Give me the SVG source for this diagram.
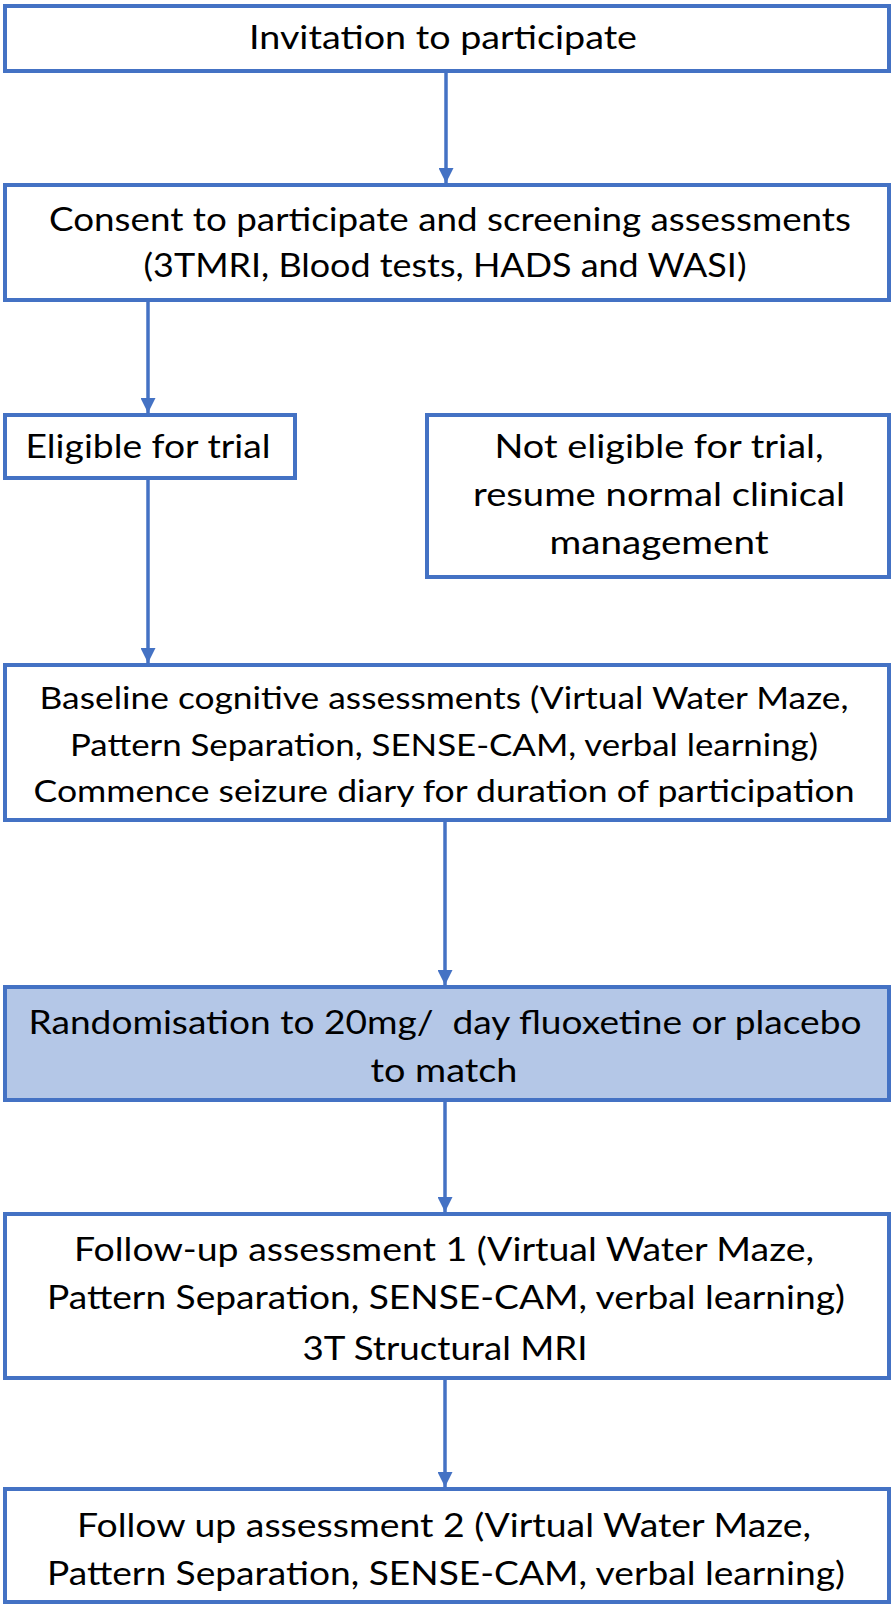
<svg xmlns="http://www.w3.org/2000/svg" width="894" height="1610" viewBox="0 0 894 1610">
<style>
.box{fill:#ffffff;stroke:#4472C4;stroke-width:4}
.hl{fill:#B4C7E7}
.conn{stroke:#4472C4;stroke-width:3.5;fill:none}
text{font-family:Lato,"Liberation Sans",sans-serif;font-size:32px;fill:#000000;text-anchor:middle}
.s{font-size:31px}
.l{font-size:33px}
</style>
<defs>
<marker id="ah" markerUnits="userSpaceOnUse" markerWidth="15" markerHeight="15" refX="15" refY="7.5" orient="auto">
<path d="M0,0 L15,7.5 L0,15 z" fill="#4472C4"/>
</marker>
</defs>
<rect width="894" height="1610" fill="#ffffff"/>
<g id="connectors">
<line class="conn" x1="446" y1="71" x2="446" y2="183" marker-end="url(#ah)"/>
<line class="conn" x1="148" y1="300" x2="148" y2="413" marker-end="url(#ah)"/>
<line class="conn" x1="148" y1="478" x2="148" y2="663" marker-end="url(#ah)"/>
<line class="conn" x1="445" y1="820" x2="445" y2="985" marker-end="url(#ah)"/>
<line class="conn" x1="445" y1="1100" x2="445" y2="1212" marker-end="url(#ah)"/>
<line class="conn" x1="445" y1="1378" x2="445" y2="1487" marker-end="url(#ah)"/>
</g>
<g id="invitation">
<rect class="box" x="5" y="6" width="884" height="65"/>
<text x="443" y="49" textLength="388" lengthAdjust="spacingAndGlyphs">Invitation to participate</text>
</g>
<g id="consent">
<rect class="box" x="5" y="185" width="884" height="115"/>
<text x="450" y="231" textLength="802" lengthAdjust="spacingAndGlyphs">Consent to participate and screening assessments</text>
<text x="445" y="277" textLength="603" lengthAdjust="spacingAndGlyphs">(3TMRI, Blood tests, HADS and WASI)</text>
</g>
<g id="eligible">
<rect class="box" x="5" y="415" width="290" height="63"/>
<text x="148" y="458" textLength="245" lengthAdjust="spacingAndGlyphs">Eligible for trial</text>
</g>
<g id="not-eligible">
<rect class="box" x="427" y="415" width="462" height="162"/>
<text x="659" y="458" textLength="329" lengthAdjust="spacingAndGlyphs">Not eligible for trial,</text>
<text x="659" y="506" textLength="372" lengthAdjust="spacingAndGlyphs">resume normal clinical</text>
<text x="659" y="554" textLength="219" lengthAdjust="spacingAndGlyphs">management</text>
</g>
<g id="baseline">
<rect class="box" x="5" y="665" width="884" height="155"/>
<text class="s" x="444" y="709" textLength="809" lengthAdjust="spacingAndGlyphs">Baseline cognitive assessments (Virtual Water Maze,</text>
<text class="s" x="444" y="756" textLength="748" lengthAdjust="spacingAndGlyphs">Pattern Separation, SENSE-CAM, verbal learning)</text>
<text class="s" x="444" y="802" textLength="821" lengthAdjust="spacingAndGlyphs">Commence seizure diary for duration of participation</text>
</g>
<g id="randomisation">
<rect class="box hl" x="5" y="987" width="884" height="113"/>
<text x="445" y="1034" textLength="833" lengthAdjust="spacingAndGlyphs" xml:space="preserve">Randomisation to 20mg/  day fluoxetine or placebo</text>
<text x="444" y="1082" textLength="147" lengthAdjust="spacingAndGlyphs">to match</text>
</g>
<g id="followup1">
<rect class="box" x="5" y="1214" width="884" height="164"/>
<text class="l" x="444" y="1261" textLength="740" lengthAdjust="spacingAndGlyphs">Follow-up assessment 1 (Virtual Water Maze,</text>
<text class="l" x="446" y="1309" textLength="798" lengthAdjust="spacingAndGlyphs">Pattern Separation, SENSE-CAM, verbal learning)</text>
<text class="l" x="445" y="1360" textLength="285" lengthAdjust="spacingAndGlyphs">3T Structural MRI</text>
</g>
<g id="followup2">
<rect class="box" x="5" y="1489" width="884" height="113"/>
<text class="l" x="444" y="1537" textLength="734" lengthAdjust="spacingAndGlyphs">Follow up assessment 2 (Virtual Water Maze,</text>
<text class="l" x="446" y="1585" textLength="798" lengthAdjust="spacingAndGlyphs">Pattern Separation, SENSE-CAM, verbal learning)</text>
</g>
</svg>
